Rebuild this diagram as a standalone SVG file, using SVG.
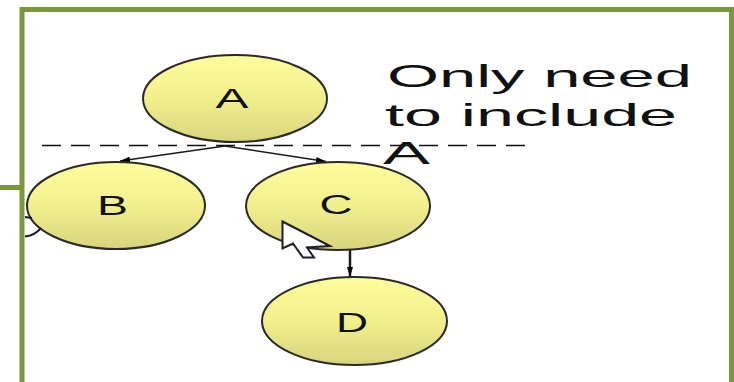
<svg xmlns="http://www.w3.org/2000/svg" width="734" height="382" viewBox="0 0 734 382">
  <defs>
    <linearGradient id="nodeFill" x1="0" y1="0" x2="0" y2="1">
      <stop offset="0" stop-color="#fdfd9c"/>
      <stop offset="0.5" stop-color="#f2ef8e"/>
      <stop offset="1" stop-color="#d8d47c"/>
    </linearGradient>
    <marker id="arrow" viewBox="0 0 10 6" refX="10" refY="3" markerWidth="10" markerHeight="6" markerUnits="userSpaceOnUse" orient="auto">
      <path d="M0,0 L10,3 L0,6 z" fill="#000"/>
    </marker>
    <style>
      .node ellipse { fill: url(#nodeFill); stroke: #2a2a2a; stroke-width: 2; }
      .node text { font-family: "Liberation Sans", Arial, sans-serif; font-size: 27px; fill: #111; text-anchor: middle; }
      .edge { stroke: #1a1a1a; stroke-width: 1.5; fill: none; marker-end: url(#arrow); }
      .edge.thick { stroke-width: 2.5; }
      .note { font-family: "Liberation Sans", Arial, sans-serif; font-size: 32px; fill: #111; }
      .frame { fill: none; stroke: #7a983b; stroke-width: 5; }
    </style>
  </defs>

  <rect width="734" height="382" fill="#fff"/>

  <!-- slide frame -->
  <rect class="frame" x="22" y="9.5" width="709.5" height="420"/>
  <line x1="0" y1="187.5" x2="21" y2="187.5" stroke="#7a983b" stroke-width="5"/>

  <!-- cut line -->
  <line x1="42" y1="145.5" x2="528" y2="145.5" stroke="#111" stroke-width="1.5" stroke-dasharray="19 10"/>

  <!-- connectors -->
  <g id="edges">
    <line class="edge" x1="225" y1="146" x2="120" y2="161"/>
    <line class="edge" x1="225" y1="146" x2="326" y2="161.5"/>
    <line class="edge thick" x1="350" y1="250" x2="350" y2="277"/>
  </g>

  <!-- nodes -->
  <g id="node-A" class="node">
    <ellipse cx="235" cy="98.5" rx="92" ry="43.5"/>
    <text x="232" y="108" textLength="33" lengthAdjust="spacingAndGlyphs">A</text>
  </g>
  <g id="node-B" class="node">
    <ellipse cx="116" cy="205.5" rx="89" ry="43.5"/>
    <text x="112.5" y="215" textLength="31" lengthAdjust="spacingAndGlyphs">B</text>
  </g>
  <g id="node-C" class="node">
    <ellipse cx="338" cy="206" rx="92" ry="44"/>
    <text x="336" y="214" textLength="33" lengthAdjust="spacingAndGlyphs">C</text>
  </g>
  <g id="node-D" class="node">
    <ellipse cx="354.5" cy="321" rx="92.5" ry="44"/>
    <text x="352" y="331.5" textLength="32" lengthAdjust="spacingAndGlyphs">D</text>
  </g>

  <!-- stray mark at the left edge -->
  <path d="M25,217 L32,218 M25,236.5 Q34,236 41,228" stroke="#1a1a3a" stroke-width="2" fill="none"/>

  <!-- annotation -->
  <g id="note">
    <text class="note" x="387" y="87" textLength="305" lengthAdjust="spacingAndGlyphs">Only need</text>
    <text class="note" x="385" y="126" textLength="292" lengthAdjust="spacingAndGlyphs">to include</text>
    <text class="note" x="383" y="164" textLength="47" lengthAdjust="spacingAndGlyphs">A</text>
  </g>

  <!-- mouse pointer -->
  <path d="M282.5,221.5 L282.5,248.5 L293,243.5 L303,257.5 L314,257.5 L307,247.5 L330,246 Z" fill="#fff" stroke="#1e1e2a" stroke-width="2" stroke-linejoin="miter"/>
</svg>
